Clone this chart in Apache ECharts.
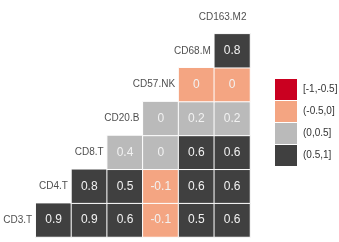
<!DOCTYPE html>
<html>
<head>
<meta charset="utf-8">
<script src="https://cdn.jsdelivr.net/npm/echarts@6/dist/echarts.min.js"></script>
<style>
  html, body { margin: 0; padding: 0; background: #fff; }
  #corr { width: 339px; height: 242px; }
</style>
</head>
<body>
<div id="corr"></div>
<script>
// 变量（下 -> 上，左 -> 右）
var vars = ['CD3.T', 'CD4.T', 'CD8.T', 'CD20.B', 'CD57.NK', 'CD68.M', 'CD163.M2'];

// 每行相关系数：行变量 vs 其右侧各列变量
var rowCD3T = [0.9, 0.9, 0.6, -0.1, 0.53, 0.6];
var rowCD4T = [0.8, 0.52, -0.1, 0.6, 0.6];
var rowCD8T = [0.4, 0.02, 0.6, 0.6];
var rowCD20B = [0.02, 0.2, 0.2];
var rowCD57NK = [-0.02, -0.02];
var rowCD68M = [0.8];

var legendLabels = ['[-1,-0.5]', '(-0.5,0]', '(0,0.5]', '(0.5,1]'];
var myColor = ['#ca0020', '#f4a582', '#bababa', '#404040'];

var rows = [rowCD3T, rowCD4T, rowCD8T, rowCD20B, rowCD57NK, rowCD68M];
var cells = [];
rows.forEach(function (r, i) {
  r.forEach(function (v, k) {
    cells.push([i + 1 + k, i, v]);
  });
});
var diag = vars.map(function (name, i) {
  return { value: [i, i], name: name };
});

var myChart = echarts.init(document.getElementById('corr'));
var cellW = 250 / 7;

var option = {
  textStyle: { fontFamily: 'Liberation Sans, Arial, sans-serif' },
  animation: false,
  grid: {
    left: 0,
    width: 250,
    top: -11.5,
    height: 248.5
  },
  xAxis: {
    type: 'category',
    data: vars,
    show: false
  },
  yAxis: {
    type: 'category',
    data: vars,
    show: false
  },
  visualMap: {
    type: 'piecewise',
    seriesIndex: 0,
    orient: 'vertical',
    inverse: true,
    align: 'left',
    left: 275,
    top: 79,
    padding: 0,
    itemWidth: 22,
    itemHeight: 21,
    itemGap: 1,
    itemSymbol: 'rect',
    textGap: 6,
    textStyle: { color: '#333', fontSize: 10 },
    pieces: [
      { gte: -1, lte: -0.5, label: legendLabels[0], color: myColor[0] },
      { gt: -0.5, lte: 0, label: legendLabels[1], color: myColor[1] },
      { gt: 0, lte: 0.5, label: legendLabels[2], color: myColor[2] },
      { gt: 0.5, lte: 1, label: legendLabels[3], color: myColor[3] }
    ]
  },
  series: [{
    name: 'corr',
    type: 'heatmap',
    data: cells,
    itemStyle: {
      borderColor: '#fff',
      borderWidth: 1
    },
    label: {
      show: true,
      color: '#f2f2f2',
      fontSize: 12,
      formatter: function (p) {
        var v = Math.round(p.value[2] * 10) / 10;
        return String(v === 0 ? 0 : v);
      }
    },
    emphasis: { disabled: true }
  }, {
    name: '标签',
    type: 'scatter',
    data: diag,
    symbolSize: 1,
    itemStyle: { color: 'rgba(0,0,0,0)' },
    label: {
      show: true,
      position: 'inside',
      align: 'right',
      offset: [cellW / 2 - 3.5, 0],
      color: '#222',
      fontSize: 10,
      formatter: function (p) { return p.name; }
    },
    silent: true
  }]
};

myChart.setOption(option);
window.addEventListener('resize', function () {
  myChart.resize();
});
</script>
</body>
</html>
